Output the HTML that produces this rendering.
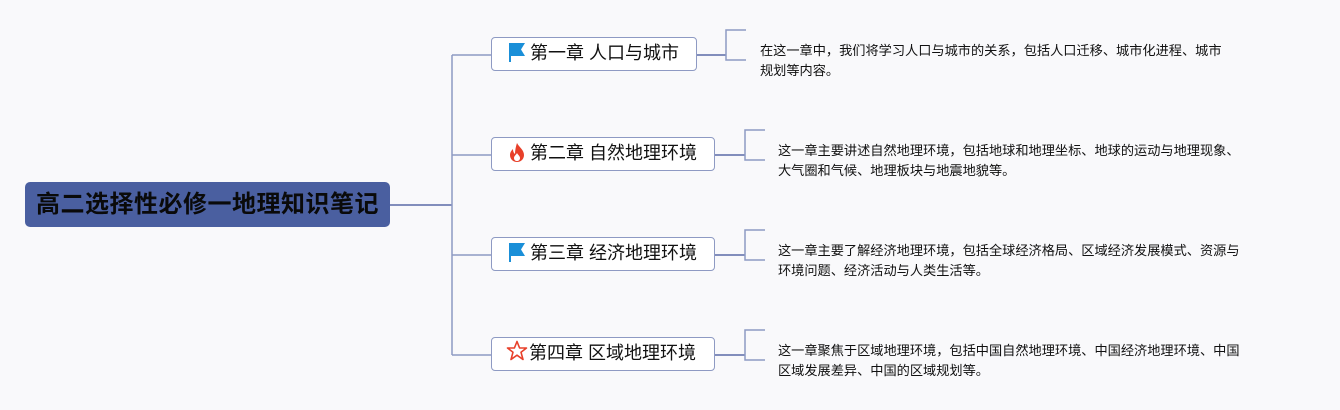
<!DOCTYPE html>
<html><head><meta charset="utf-8"><style>
html,body{margin:0;padding:0;}
body{width:1340px;height:410px;background:#f9f9fb;position:relative;overflow:hidden;font-family:"Liberation Sans","Noto Sans CJK SC",sans-serif;}
.root{position:absolute;left:25px;top:182px;width:365px;height:45px;background:#4a5fa0;border-radius:5px;color:#0a0a0a;font-weight:bold;font-size:24px;line-height:45px;text-align:center;letter-spacing:0.5px;}
.ch{position:absolute;left:491px;height:34px;box-sizing:border-box;border:1.5px solid #8e9ac3;border-radius:4px;background:#fff;font-size:18px;line-height:31px;color:#111;padding-left:16px;white-space:nowrap;}
.ch svg{vertical-align:-3px;margin-right:4px}
.d{position:absolute;font-size:13.2px;line-height:20px;color:#111;white-space:nowrap;}
</style></head><body>
<svg width="1340" height="410" style="position:absolute;left:0;top:0" fill="none" stroke="#8e9ac3" stroke-width="1.5">
<path d="M390 205 H452" stroke="#5a6aa8"/>
<path d="M452 55 V355 M452 55 H491 M452 155 H491 M452 255 H491 M452 355 H491"/>
<path d="M697 55 H726 M715 155 H745 M715 255 H745 M715 355 H745" stroke="#5a6aa8"/>
<path d="M746 30 H726 V60 H746"/>
<path d="M765 130 H745 V160 H765"/>
<path d="M765 230 H745 V260 H765"/>
<path d="M765 330 H745 V360 H765"/>
</svg>
<div class="root">高二选择性必修一地理知识笔记</div>
<div class="ch" style="top:37px;width:206px"><svg width="18" height="20" viewBox="0 0 18 20"><path d="M1 1H17L13 7.5L17 14H3V20H1Z" fill="#1a8fd8"/></svg>第一章 人口与城市</div>
<div class="ch" style="top:137px;width:224px"><svg width="18" height="20" viewBox="0 0 18 20"><path d="M9 1C11 5 16 8 16 13C16 17 13 20 9 20C5 20 2 17 2 13C2 10 4 8 5 7C5 10 6 11 7 12C7 8 8 4 9 1Z" fill="#e8402a"/><path d="M9 11C10 13 12 14 12 16C12 18 10.5 19 9 19C7.5 19 6 18 6 16C6 14 8 13 9 11Z" fill="#fff"/></svg>第二章 自然地理环境</div>
<div class="ch" style="top:237px;width:224px"><svg width="18" height="20" viewBox="0 0 18 20"><path d="M1 1H17L13 7.5L17 14H3V20H1Z" fill="#1a8fd8"/></svg>第三章 经济地理环境</div>
<div class="ch" style="top:337px;width:224px;padding-left:14px"><svg width="22" height="22" viewBox="0 0 22 22" style="margin-right:1px"><path d="M11 1.5L13.6 8H20.5L15 12.2L17 19.5L11 15.2L5 19.5L7 12.2L1.5 8H8.4Z" fill="none" stroke="#e8402a" stroke-width="1.6" stroke-linejoin="round"/></svg>第四章 区域地理环境</div>
<div class="d" style="left:760px;top:41px">在这一章中，我们将学习人口与城市的关系，包括人口迁移、城市化进程、城市<br>规划等内容。</div>
<div class="d" style="left:778px;top:141px">这一章主要讲述自然地理环境，包括地球和地理坐标、地球的运动与地理现象、<br>大气圈和气候、地理板块与地震地貌等。</div>
<div class="d" style="left:778px;top:241px">这一章主要了解经济地理环境，包括全球经济格局、区域经济发展模式、资源与<br>环境问题、经济活动与人类生活等。</div>
<div class="d" style="left:778px;top:341px">这一章聚焦于区域地理环境，包括中国自然地理环境、中国经济地理环境、中国<br>区域发展差异、中国的区域规划等。</div>
</body></html>
